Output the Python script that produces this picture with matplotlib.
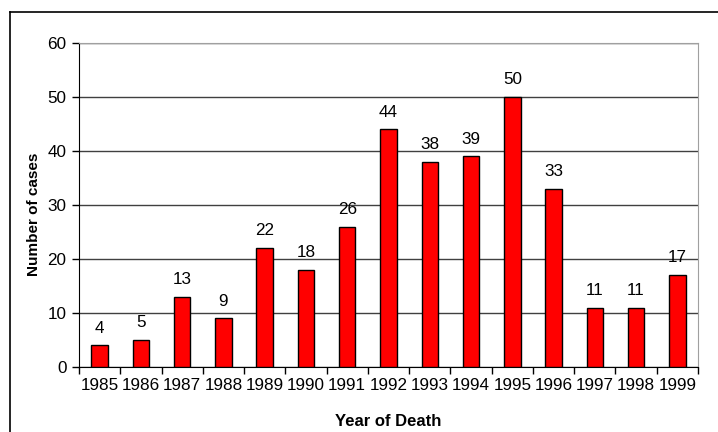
import matplotlib
matplotlib.use("Agg")
import matplotlib.pyplot as plt
from matplotlib.lines import Line2D
import numpy as np

plt.rcParams['font.family'] = ['Liberation Sans', 'DejaVu Sans']

years = ["1985", "1986", "1987", "1988", "1989", "1990", "1991", "1992",
         "1993", "1994", "1995", "1996", "1997", "1998", "1999"]
cases = [4, 5, 13, 9, 22, 18, 26, 44, 38, 39, 50, 33, 11, 11, 17]

fig = plt.figure(figsize=(7.18, 4.32), dpi=100)
ax = fig.add_axes([79/718, 1-367/432, (698-79)/718, (367-43)/432])

x = np.arange(len(years))
ax.bar(x, cases, width=0.4, color='#ff0000', edgecolor='black', linewidth=1.0, zorder=3)
for xi, v in zip(x, cases):
    ax.text(xi, v + 1.8, str(v), ha='center', va='bottom', fontsize=12.3)

ax.set_xlim(-0.5, len(years) - 0.5)
ax.set_ylim(0, 60)
ax.set_yticks(range(0, 61, 10))
ax.set_xticks(x)
ax.set_xticklabels(years, fontsize=12.3)
ax.tick_params(axis='x', length=0, pad=8)
ax.set_xticks(np.arange(-0.5, len(years), 1), minor=True)
ax.tick_params(axis='x', which='minor', length=5, direction='out', width=1)
ax.tick_params(axis='y', length=5, direction='out', width=1, labelsize=12.3, pad=4)
ax.yaxis.grid(True, color='#404040', linewidth=1, zorder=0)
ax.set_axisbelow(True)

ax.spines['left'].set_color('black')
ax.spines['bottom'].set_color('black')
ax.spines['top'].set_color('#a0a0a0')
ax.spines['right'].set_color('#a0a0a0')

ax.set_ylabel("Number of cases", fontsize=11, fontweight='bold')
ax.yaxis.set_label_coords(-0.062, 0.472)
ax.set_xlabel("Year of Death", fontsize=12, fontweight='bold', labelpad=15)

# outer frame
fx0 = 10/718
fy0 = 1 - 12/432
fig.add_artist(Line2D([fx0, fx0], [0, fy0], transform=fig.transFigure, color='black', linewidth=1.2))
fig.add_artist(Line2D([fx0, 1], [fy0, fy0], transform=fig.transFigure, color='black', linewidth=1.2))

fig.savefig("out.png", dpi=100)
